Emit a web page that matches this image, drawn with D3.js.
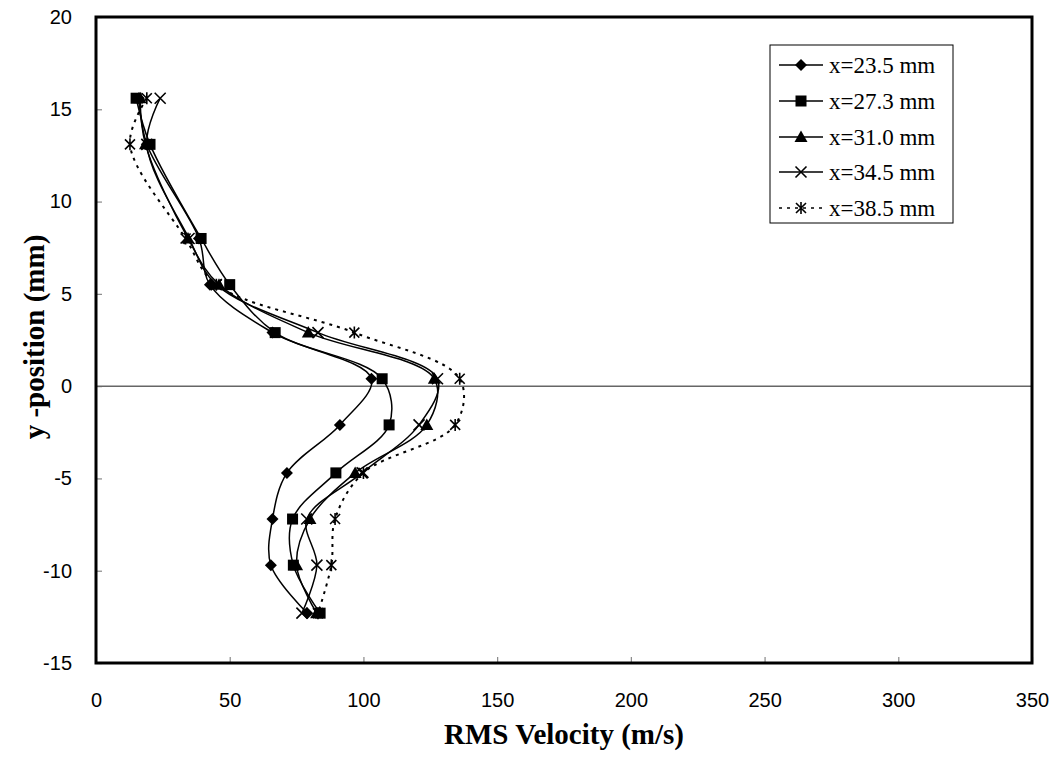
<!DOCTYPE html>
<html><head><meta charset="utf-8">
<script src="https://cdn.jsdelivr.net/npm/d3@7/dist/d3.min.js"></script>
<style>body{margin:0;background:#fff}svg{display:block}</style>
</head><body>
<svg id="c" width="1058" height="758"></svg>
<script>
const yPositions = [15.6, 13.1, 8.0, 5.5, 2.9, 0.4, -2.1, -4.7, -7.2, -9.7, -12.3];
const v23_5 = [16, 19, 38.5, 42.6, 66, 103, 91.2, 71.4, 66, 65.4, 79];
const v27_3 = [15, 20.2, 39.3, 50, 67, 107, 109.6, 89.7, 73.5, 73.8, 83.8];
const v31_0 = [16.5, 18.5, 34.4, 46, 79.4, 126.5, 123.7, 96.9, 80, 75, 82.5];
const v34_5 = [24, 19, 34.8, 45, 83, 127.7, 120.8, 99.5, 78.8, 82.6, 77];
const v38_5 = [19, 12.7, 33.5, 45, 96.6, 136, 134.3, 100, 89.4, 88, 83];
const seriesNames = ["x=23.5 mm", "x=27.3 mm", "x=31.0 mm", "x=34.5 mm", "x=38.5 mm"];
const markerTypes = ["diamond", "square", "triangle", "cross", "asterisk"];
const xTicks = [0, 50, 100, 150, 200, 250, 300, 350];
const yTicks = [-15, -10, -5, 0, 5, 10, 15, 20];

const svg = d3.select("#c");
const L = 96, R = 1032, T = 17, B = 663;
const x = d3.scaleLinear().domain([0, 350]).range([L, R]);
const y = d3.scaleLinear().domain([-15, 20]).range([B, T]);

const xa = svg.append("g").attr("transform", `translate(0,${B})`)
  .call(d3.axisBottom(x).tickValues(xTicks).tickSize(-6).tickPadding(30).tickFormat(d => String(d)));
const ya = svg.append("g").attr("transform", `translate(${L},0)`)
  .call(d3.axisLeft(y).tickValues(yTicks).tickSize(-6).tickPadding(24).tickFormat(d => String(d)));
[xa, ya].forEach(a => {
  a.select(".domain").remove();
  a.selectAll(".tick line").attr("stroke", "#888").attr("stroke-width", 1.2);
  a.selectAll("text").attr("font-family", "Liberation Sans, Arial, sans-serif").attr("font-size", 20).attr("fill", "#000");
});

svg.append("line").attr("x1", L).attr("x2", R).attr("y1", y(0)).attr("y2", y(0))
  .attr("stroke", "#666").attr("stroke-width", 1.5);

const series = [v23_5, v27_3, v31_0, v34_5, v38_5];
const line = d3.line().x(d => x(d[0])).y(d => y(d[1])).curve(d3.curveCatmullRom.alpha(0.5));

function marker(g, type, cx, cy) {
  if (type === "diamond") {
    g.append("path").attr("d", `M${cx},${cy-6}L${cx+6},${cy}L${cx},${cy+6}L${cx-6},${cy}Z`).attr("fill", "#000");
  } else if (type === "square") {
    g.append("rect").attr("x", cx-5.5).attr("y", cy-5.5).attr("width", 11).attr("height", 11).attr("fill", "#000");
  } else if (type === "triangle") {
    g.append("path").attr("d", `M${cx},${cy-6.5}L${cx+6.5},${cy+5}L${cx-6.5},${cy+5}Z`).attr("fill", "#000");
  } else if (type === "cross") {
    g.append("path").attr("d", `M${cx-5.5},${cy-5.5}L${cx+5.5},${cy+5.5}M${cx+5.5},${cy-5.5}L${cx-5.5},${cy+5.5}`)
      .attr("stroke", "#000").attr("stroke-width", 1.6).attr("fill", "none");
  } else {
    g.append("path").attr("d", `M${cx-5},${cy-5}L${cx+5},${cy+5}M${cx+5},${cy-5}L${cx-5},${cy+5}M${cx},${cy-6}L${cx},${cy+6}`)
      .attr("stroke", "#000").attr("stroke-width", 1.6).attr("fill", "none");
  }
}

series.forEach((vals, i) => {
  const pts = vals.map((v, j) => [v, yPositions[j]]);
  svg.append("path").attr("d", line(pts)).attr("fill", "none").attr("stroke", "#000")
    .attr("stroke-width", i === 4 ? 2 : 1.5).attr("stroke-dasharray", i === 4 ? "3,5" : null);
});
series.forEach((vals, i) => {
  const g = svg.append("g");
  vals.forEach((v, j) => marker(g, markerTypes[i], x(v), y(yPositions[j])));
});

svg.append("rect").attr("x", L).attr("y", T).attr("width", R - L).attr("height", B - T)
  .attr("fill", "none").attr("stroke", "#000").attr("stroke-width", 3);

const lg = svg.append("g");
lg.append("rect").attr("x", 770).attr("y", 45).attr("width", 183).attr("height", 178)
  .attr("fill", "#fff").attr("stroke", "#000").attr("stroke-width", 1);
const rowsY = [65, 101, 137, 172, 208];
seriesNames.forEach((n, i) => {
  const ry = rowsY[i];
  lg.append("line").attr("x1", 779).attr("x2", 823).attr("y1", ry).attr("y2", ry)
    .attr("stroke", "#000").attr("stroke-width", 1.5).attr("stroke-dasharray", i === 4 ? "3,5" : null);
  marker(lg, markerTypes[i], 801, ry);
  lg.append("text").attr("x", 829).attr("y", ry + 8).text(n)
    .attr("font-family", "Liberation Serif, Times New Roman, serif").attr("font-size", 23);
});

svg.append("text").attr("x", 564).attr("y", 744).attr("text-anchor", "middle")
  .attr("font-family", "Liberation Serif, Times New Roman, serif").attr("font-weight", "bold").attr("font-size", 29)
  .text("RMS Velocity (m/s)");
svg.append("text").attr("transform", "translate(44,337) rotate(-90)").attr("text-anchor", "middle")
  .attr("font-family", "Liberation Serif, Times New Roman, serif").attr("font-weight", "bold").attr("font-size", 29)
  .text("y -position (mm)");
</script>
</body></html>
